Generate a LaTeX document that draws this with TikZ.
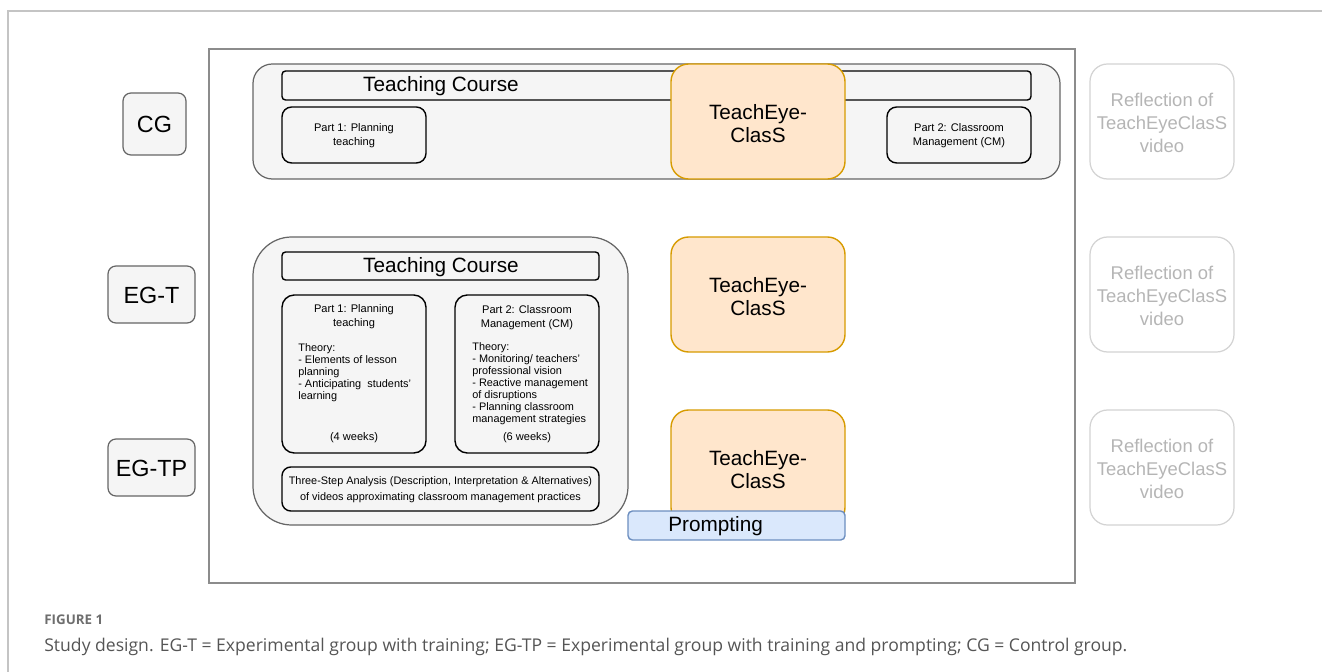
\documentclass[tikz,border=0pt]{standalone}
\usepackage{fontspec}
\setmainfont{Liberation Sans}
\newfontfamily\capfont{Open Sans}
\usetikzlibrary{positioning}
\definecolor{boxfill}{HTML}{F5F5F5}
\definecolor{grpline}{HTML}{666666}
\definecolor{framegray}{HTML}{C4C4C4}
\definecolor{innergray}{HTML}{8C8C8C}
\definecolor{teachfill}{HTML}{FFE6CC}
\definecolor{teachline}{HTML}{D79B00}
\definecolor{promptfill}{HTML}{DAE8FC}
\definecolor{promptline}{HTML}{6C8EBF}
\definecolor{reflline}{HTML}{D3D3D3}
\definecolor{refltext}{HTML}{B5B5B5}
\definecolor{captext}{HTML}{555555}
\tikzset{
  grpbox/.style={draw=grpline, fill=boxfill, line width=0.7pt},
  partbox/.style={draw=black, fill=boxfill, line width=0.8pt},
  teachbox/.style={draw=teachline, fill=teachfill, line width=0.8pt, rounded corners=10pt},
  reflbox/.style={draw=reflline, line width=0.7pt, rounded corners=10pt},
  bigtxt/.style={font=\fontsize{11.8}{13}\selectfont, align=center, inner sep=0pt},
  labtxt/.style={font=\fontsize{13.3}{15}\selectfont, inner sep=0pt},
  smalltxt/.style={font=\fontsize{6.3}{8}\selectfont, align=center, inner sep=0pt},
  theorytxt/.style={font=\fontsize{6.2}{6.9}\selectfont, align=left, inner sep=0pt, anchor=north west},
  refltxt/.style={font=\fontsize{10.5}{13}\selectfont, text=refltext, align=center, inner sep=0pt}
}
\begin{document}
\begin{tikzpicture}[x=0.02cm, y=-0.02cm]
		%%%%% START %%%%%
		\useasboundingbox (0,0) rectangle (1322,672);
		
		\draw[framegray, line width=0.8pt] (8,672) -- (8,11) -- (1322,11);
		\draw[innergray, line width=0.8pt] (209,49) rectangle (1075,583);
		
		% group labels
		\draw[grpbox, rounded corners=4.5pt] (123,93) rectangle (186,155);
		\node[labtxt] (cg) at (154.5,124) {CG};
		\draw[grpbox, rounded corners=4.5pt] (108,266) rectangle (195,323);
		\node[labtxt] (egt) at (151.5,295) {EG-T};
		\draw[grpbox, rounded corners=4.5pt] (108,439) rectangle (195,496);
		\node[labtxt] (egtp) at (151.5,468) {EG-TP};
		
		% control group course
		\draw[grpbox, rounded corners=11pt] (253,64) rectangle (1060,179);
		\draw[partbox, rounded corners=2pt] (282,71) rectangle (1031,100);
		\node[bigtxt] (cgcourse) at (441,86) {Teaching Course};
		\draw[partbox, rounded corners=5.5pt] (282,107) rectangle (426,163);
		\node[smalltxt] (cgpartA) at (354,136) {Part 1: Planning\\teaching};
		\draw[partbox, rounded corners=5.5pt] (887,107) rectangle (1031,163);
		\node[smalltxt] (cgpartB) at (959,136) {Part 2: Classroom\\Management (CM)};
		
		\draw[teachbox] (671,64) rectangle (845,179);
		\node[bigtxt] (cgteach) at (758,124) {TeachEye-\\ClasS};
		
		% training course
		\draw[grpbox, rounded corners=22pt] (253,237) rectangle (628,525);
		\draw[partbox, rounded corners=2pt] (282,252) rectangle (599,280);
		\node[bigtxt] (egcourse) at (441,267) {Teaching Course};
		
		\draw[partbox, rounded corners=7pt] (282,295) rectangle (426,453);
		\node[smalltxt] (egpartA) at (354,317) {Part 1: Planning\\teaching};
		\node[theorytxt] (theoryA) at (298,343) {Theory:\\- Elements of lesson\\planning\\- Anticipating\ \ students'\\learning};
		\node[smalltxt] (weeksA) at (354,438) {(4 weeks)};
		
		\draw[partbox, rounded corners=7pt] (455,295) rectangle (599,453);
		\node[smalltxt] (egpartB) at (527,318) {Part 2: Classroom\\Management (CM)};
		\node[theorytxt] (theoryB) at (472,342) {Theory:\\- Monitoring/ teachers'\\professional vision\\- Reactive management\\of disruptions\\- Planning classroom\\management strategies};
		\node[smalltxt] (weeksB) at (527,438) {(6 weeks)};
		
		\draw[partbox, rounded corners=5pt] (282,467) rectangle (599,511);
		\node[smalltxt, font=\fontsize{6.2}{9}\selectfont] (analysis) at (440.5,490) {Three-Step Analysis (Description, Interpretation \& Alternatives)\\of videos approximating classroom management practices};
		
		\draw[teachbox] (671,237) rectangle (845,352);
		\node[bigtxt] (egtteach) at (758,297) {TeachEye-\\ClasS};
		\draw[teachbox] (671,410) rectangle (845,525);
		\node[bigtxt] (egtpteach) at (758,470) {TeachEye-\\ClasS};
		
		\draw[draw=promptline, fill=promptfill, line width=0.8pt, rounded corners=2.5pt] (628,511) rectangle (845,540);
		\node[bigtxt, anchor=west] (prompt) at (668,526) {Prompting};
		
		% reflection
		\draw[reflbox] (1090,64) rectangle (1234,179);
		\node[refltxt] (reflA) at (1162,123) {Reflection of\\TeachEyeClasS\\video};
		\draw[reflbox] (1090,237) rectangle (1234,352);
		\node[refltxt] (reflB) at (1162,296) {Reflection of\\TeachEyeClasS\\video};
		\draw[reflbox] (1090,410) rectangle (1234,525);
		\node[refltxt] (reflC) at (1162,469) {Reflection of\\TeachEyeClasS\\video};
		
		% caption
		\node[anchor=base west, inner sep=0pt, text=captext!85, font=\capfont\bfseries\fontsize{7.6}{9}\selectfont] (fignum) at (44,624) {FIGURE 1};
		\node[anchor=base west, inner sep=0pt, text=captext, font=\capfont\fontsize{10}{12}\selectfont] (figcap) at (44,651) {Study design. EG-T = Experimental group with training; EG-TP = Experimental group with training and prompting; CG = Control group.};
		
		%%%%% END %%%%%
	\end{tikzpicture}
\end{document}
